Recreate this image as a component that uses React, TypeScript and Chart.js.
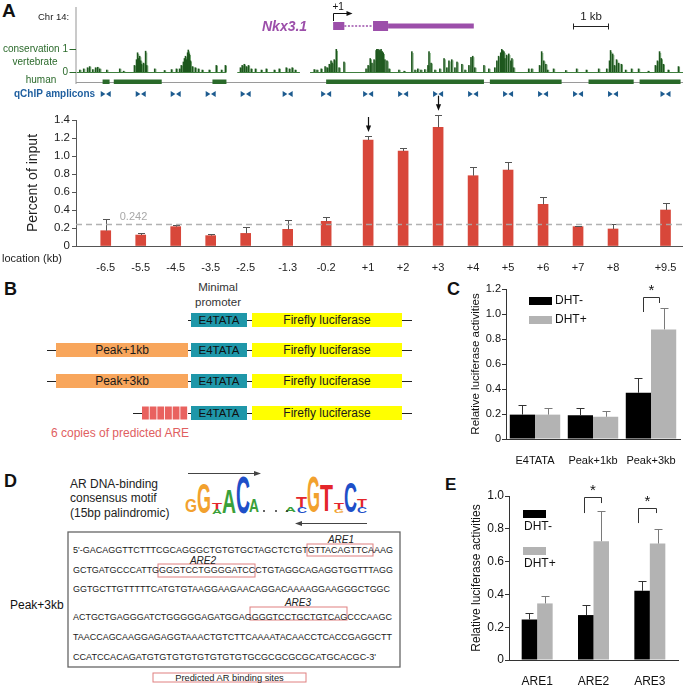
import React, { useEffect, useRef } from 'react';
import { Chart, registerables } from 'chart.js';

Chart.register(...registerables);

const FONT = "'Liberation Sans', Arial, Helvetica, sans-serif";
Chart.defaults.font.family = FONT;
Chart.defaults.color = '#222';

// ---------------- Panel A : ChIP-qPCR along the Nkx3.1 locus ----------------
const ampliconLabels = ['-6.5', '-5.5', '-4.5', '-3.5', '-2.5', '-1.3', '-0.2', '+1', '+2', '+3', '+4', '+5', '+6', '+7', '+8', '+9.5'];
const ampliconKb = [-6.5, -5.5, -4.5, -3.5, -2.5, -1.3, -0.2, 1, 2, 3, 4, 5, 6, 7, 8, 9.5];
const percentInput = [0.17, 0.122, 0.215, 0.115, 0.14, 0.185, 0.274, 1.178, 1.055, 1.319, 0.781, 0.844, 0.463, 0.215, 0.189, 0.4];
const percentInputErr = [0.13, 0.02, 0.015, 0.015, 0.067, 0.1, 0.052, 0.044, 0.03, 0.14, 0.1, 0.086, 0.085, 0.007, 0.055, 0.074];
const inputThreshold = 0.242;
const arrowedAmplicons = ['+1', '+3'];

// genome browser track, positions in kb relative to the TSS (+1)
const trackRangeKb = [-7.35, 10];
const conservationSegmentsKb = [[-7.33, -3.05], [-2.74, -0.95], [-0.66, 10]];
const conservationPeaks: [number, number][] = [
  [-7.24, 0.1], [-7.13, 0.15], [-7.02, 0.2], [-6.96, 0.25], [-6.87, 0.12], [-6.79, 0.2], [-6.73, 0.22], [-6.67, 0.15], [-6.47, 0.1], [-6.1, 0.15], [-5.99, 0.05],
  [-5.68, 0.3], [-5.62, 0.55], [-5.59, 0.85], [-5.56, 0.6], [-5.53, 0.7], [-5.5, 0.5], [-5.48, 0.35], [-5.42, 0.4], [-5.36, 0.92], [-5.33, 0.3],
  [-5.1, 0.15], [-4.82, 0.08], [-4.62, 0.12], [-4.48, 0.15],
  [-4.39, 0.15], [-4.34, 0.3], [-4.28, 0.45], [-4.25, 0.6], [-4.22, 0.7], [-4.19, 0.55], [-4.16, 0.85], [-4.14, 0.97], [-4.11, 0.8], [-4.08, 0.5], [-4.02, 0.25], [-3.94, 0.2], [-3.85, 0.15], [-3.74, 0.1], [-3.54, 0.1],
  [-3.34, 0.3], [-3.19, 0.1], [-3.08, 0.3],
  [-2.65, 0.2], [-2.6, 0.3], [-2.54, 0.35], [-2.48, 0.25], [-2.42, 0.3], [-2.34, 0.15], [-2.22, 0.15], [-2.05, 0.1], [-1.91, 0.15], [-1.68, 0.1], [-1.54, 0.15], [-1.34, 0.2], [-1.25, 0.15], [-1.17, 0.2], [-1.08, 0.1],
  [-0.54, 0.12], [-0.46, 0.1], [-0.34, 0.15], [-0.23, 0.25], [-0.17, 0.2], [-0.11, 0.35], [-0.06, 0.5], [-0.03, 0.4], [0.03, 0.55], [0.09, 1.0], [0.17, 0.2], [0.31, 0.45],
  [0.94, 0.15], [1.0, 0.3], [1.06, 0.6], [1.11, 0.4], [1.17, 0.55], [1.23, 0.95], [1.25, 1.0], [1.28, 1.0], [1.31, 0.98], [1.34, 0.95], [1.37, 1.0], [1.4, 0.9], [1.43, 0.85], [1.48, 0.55], [1.54, 0.5], [1.6, 0.15],
  [1.88, 0.1], [2.03, 0.05], [2.25, 0.9], [2.34, 0.1], [2.42, 0.15], [2.51, 0.1], [2.62, 0.12], [2.71, 0.3], [2.74, 0.9], [2.8, 0.4], [2.91, 0.1], [3.05, 0.15], [3.17, 0.6], [3.25, 0.2], [3.31, 0.5], [3.39, 0.55], [3.48, 0.2], [3.54, 0.45],
  [3.68, 0.35], [3.77, 0.1], [3.88, 0.3], [3.94, 0.65], [3.99, 0.7], [4.05, 0.2], [4.31, 0.3], [4.45, 0.15],
  [4.62, 0.2], [4.68, 0.5], [4.73, 0.7], [4.79, 0.85], [4.82, 1.0], [4.85, 0.95], [4.88, 0.9], [4.91, 0.6], [4.96, 0.75], [5.02, 0.8], [5.08, 0.5], [5.11, 0.6], [5.16, 0.2],
  [5.59, 0.15], [5.68, 0.15], [5.9, 0.3], [5.96, 0.9], [6.02, 0.5], [6.08, 0.35], [6.13, 0.1], [6.3, 0.15],
  [6.65, 0.08], [6.96, 0.15], [7.24, 0.1], [7.59, 0.15],
  [7.82, 0.15], [7.9, 0.5], [7.93, 0.95], [7.99, 0.8], [8.04, 0.3], [8.1, 0.55], [8.16, 0.4], [8.24, 0.35], [8.36, 0.1], [8.53, 0.15], [8.73, 0.15], [9.01, 0.05],
  [9.21, 0.3], [9.27, 0.5], [9.33, 0.9], [9.38, 0.6], [9.44, 0.35], [9.58, 0.1], [9.87, 0.25],
];
const humanBlocksKb = [[-6.59, -6.39], [-6.27, -4.9], [-3.45, -3.05], [-0.2, 4.31], [4.48, 6.53], [7.3, 8.59], [8.76, 9.93]];
const geneExonsKb = [[0, 0.32], [1.14, 1.57]];
const geneUtrKb = [1.57, 4.02];
const scaleBarKb = [6.87, 7.87];

// ---------------- Panel C : reporter constructs ----------------
const reporterLabels = ['E4TATA', 'Peak+1kb', 'Peak+3kb'];
const cDhtMinus = [0.195, 0.19, 0.37];
const cDhtMinusErr = [0.075, 0.06, 0.12];
const cDhtPlus = [0.195, 0.178, 0.877];
const cDhtPlusErr = [0.05, 0.05, 0.168];

// ---------------- Panel E : ARE reporters ----------------
const areLabels = ['ARE1', 'ARE2', 'ARE3'];
const eDhtMinus = [0.247, 0.274, 0.422];
const eDhtMinusErr = [0.037, 0.061, 0.058];
const eDhtPlus = [0.345, 0.724, 0.71];
const eDhtPlusErr = [0.046, 0.183, 0.09];

const seriesNames = ['DHT-', 'DHT+'];

// ---------------- Panel D : sequence ----------------
const peak3kbSequence = [
  "5'-GACAGGTTCTTTCGCAGGGCTGTGTGCTAGCTCTGTGTTACAGTTCAAAG",
  'GCTGATGCCCATTGGGGTCCTGGGGATCCCTGTAGGCAGAGGTGGTTTAGG',
  'GGTGCTTGTTTTTCATGTGTAAGGAAGAACAGGACAAAAGGAAGGGCTGGC',
  'ACTGCTGAGGGATCTGGGGGAGATGGAGGGGTCCTGCTGTCAGCCCAAGC',
  'TAACCAGCAAGGAGAGGTAAACTGTCTTCAAAATACAACCTCACCGAGGCTT',
  "CCATCCACAGATGTGTGTGTGTGTGTGTGCGCGCGCGCATGCACGC-3'",
];

const fmt1 = (v: number) => (Math.abs(v) < 1e-9 ? '0' : Number(v).toFixed(1));

// ---------------- plugins ----------------
const errorBarPlugin = {
  id: 'errorBars',
  afterDatasetsDraw(chart: any) {
    const { ctx } = chart;
    const ys = chart.scales.y;
    chart.data.datasets.forEach((ds: any, di: number) => {
      if (!ds.errors) return;
      const meta = chart.getDatasetMeta(di);
      ctx.save();
      ctx.strokeStyle = ds.errorColor || '#444';
      ctx.lineWidth = 1;
      meta.data.forEach((bar: any, i: number) => {
        const raw = ds.data[i];
        const val = typeof raw === 'number' ? raw : raw.y;
        const top = Math.round(ys.getPixelForValue(val + ds.errors[i])) + 0.5;
        const x = Math.round(bar.x) + 0.5;
        const half = ds.capHalf || 3.5;
        ctx.beginPath();
        ctx.moveTo(x, bar.y);
        ctx.lineTo(x, top);
        ctx.moveTo(x - half, top);
        ctx.lineTo(x + half, top);
        ctx.stroke();
      });
      ctx.restore();
    });
  },
};

const trackPlugin = {
  id: 'genomeTrack',
  afterDatasetsDraw(chart: any) {
    const { ctx, chartArea } = chart;
    const xs = chart.scales.x;
    const ys = chart.scales.y;
    const px = (kb: number) => xs.getPixelForValue(kb);
    const L = chartArea.left;
    const R = chartArea.right;
    ctx.save();

    // threshold line
    const ty = Math.round(ys.getPixelForValue(inputThreshold)) + 0.5;
    ctx.strokeStyle = 'rgba(170,170,170,0.9)';
    ctx.lineWidth = 1.3;
    ctx.setLineDash([6, 4]);
    ctx.beginPath();
    ctx.moveTo(L, ty);
    ctx.lineTo(R, ty);
    ctx.stroke();
    ctx.setLineDash([]);
    ctx.fillStyle = '#a8a8a8';
    ctx.font = `11px ${FONT}`;
    ctx.textAlign = 'left';
    ctx.textBaseline = 'middle';
    ctx.fillText(String(inputThreshold), px(-6.1), ty - 8);

    // location label
    ctx.fillStyle = '#222';
    ctx.font = `11px ${FONT}`;
    ctx.fillText('location (kb)', 2, 259);

    // arrows on peaks
    arrowedAmplicons.forEach((lbl) => {
      const i = ampliconLabels.indexOf(lbl);
      const x = Math.round(px(ampliconKb[i])) + 0.5;
      const tip = ys.getPixelForValue(percentInput[i] + percentInputErr[i]) - 4;
      ctx.strokeStyle = '#111';
      ctx.fillStyle = '#111';
      ctx.lineWidth = 1.2;
      ctx.beginPath();
      ctx.moveTo(x, tip - 15);
      ctx.lineTo(x, tip - 5);
      ctx.stroke();
      ctx.beginPath();
      ctx.moveTo(x, tip);
      ctx.lineTo(x - 2.6, tip - 6.5);
      ctx.lineTo(x + 2.6, tip - 6.5);
      ctx.closePath();
      ctx.fill();
    });

    // frame line of browser view
    ctx.strokeStyle = '#b8b8b8';
    ctx.lineWidth = 1.5;
    ctx.beginPath();
    ctx.moveTo(L, 7);
    ctx.lineTo(L, 84);
    ctx.stroke();

    ctx.fillStyle = '#222';
    ctx.font = `9.5px ${FONT}`;
    ctx.fillText('Chr 14:', 38, 17);

    // gene model
    const purple = '#9c4faa';
    const gy = 26;
    ctx.fillStyle = purple;
    ctx.font = `italic bold 14px ${FONT}`;
    ctx.textAlign = 'right';
    ctx.fillText('Nkx3.1', px(0) - 26, gy + 1);
    const e1 = geneExonsKb[0];
    const e2 = geneExonsKb[1];
    ctx.fillRect(px(e1[0]), gy - 4, px(e1[1]) - px(e1[0]), 8);
    ctx.fillRect(px(e2[0]), gy - 5, px(e2[1]) - px(e2[0]), 10);
    ctx.fillRect(px(geneUtrKb[0]), gy - 2.5, px(geneUtrKb[1]) - px(geneUtrKb[0]), 5);
    ctx.strokeStyle = purple;
    ctx.lineWidth = 1.6;
    ctx.setLineDash([2, 1.6]);
    ctx.beginPath();
    ctx.moveTo(px(e1[1]), gy);
    ctx.lineTo(px(e2[0]), gy);
    ctx.stroke();
    ctx.setLineDash([]);

    // TSS arrow
    const tx = Math.round(px(0)) + 0.5;
    ctx.strokeStyle = '#111';
    ctx.fillStyle = '#111';
    ctx.lineWidth = 1;
    ctx.beginPath();
    ctx.moveTo(tx, 21);
    ctx.lineTo(tx, 13.5);
    ctx.lineTo(tx + 14, 13.5);
    ctx.stroke();
    ctx.beginPath();
    ctx.moveTo(tx + 19, 13.5);
    ctx.lineTo(tx + 13, 11);
    ctx.lineTo(tx + 13, 16);
    ctx.closePath();
    ctx.fill();
    ctx.font = `10px ${FONT}`;
    ctx.textAlign = 'left';
    ctx.fillText('+1', tx - 1, 7);

    // scale bar
    const s0 = Math.round(px(scaleBarKb[0])) + 0.5;
    const s1 = Math.round(px(scaleBarKb[1])) + 0.5;
    ctx.strokeStyle = '#222';
    ctx.beginPath();
    ctx.moveTo(s0, 26.5);
    ctx.lineTo(s1, 26.5);
    ctx.moveTo(s0, 23.5);
    ctx.lineTo(s0, 29.5);
    ctx.moveTo(s1, 23.5);
    ctx.lineTo(s1, 29.5);
    ctx.stroke();
    ctx.fillStyle = '#222';
    ctx.font = `11.5px ${FONT}`;
    ctx.textAlign = 'center';
    ctx.fillText('1 kb', (s0 + s1) / 2, 17);

    // conservation track
    const green = '#2b6a2b';
    const cBase = 72;
    const cH = 23;
    ctx.strokeStyle = '#3f7f3f';
    ctx.lineWidth = 1;
    conservationSegmentsKb.forEach(([a, b]) => {
      ctx.beginPath();
      ctx.moveTo(px(a), cBase + 0.5);
      ctx.lineTo(px(b), cBase + 0.5);
      ctx.stroke();
    });
    conservationPeaks.forEach(([kb, v]) => {
      ctx.fillStyle = '#5f9a5f';
      ctx.fillRect(px(kb) + 0.8, cBase - v * cH * 0.92, 0.8, v * cH * 0.92);
      ctx.fillStyle = '#1d571d';
      ctx.fillRect(px(kb) - 0.8, cBase - v * cH, 1.6, v * cH);
    });

    // human track
    ctx.strokeStyle = '#9a9a9a';
    ctx.beginPath();
    ctx.moveTo(L, 82.5);
    ctx.lineTo(R, 82.5);
    ctx.stroke();
    ctx.fillStyle = '#2a6a2a';
    humanBlocksKb.forEach(([a, b]) => {
      ctx.fillRect(px(a), 79.5, px(b) - px(a), 4.5);
    });

    // amplicons
    ctx.fillStyle = '#1d5b8f';
    ampliconKb.forEach((kb) => {
      const cx = px(kb);
      const cy = 94;
      ctx.beginPath();
      ctx.moveTo(cx - 5, cy - 3);
      ctx.lineTo(cx - 5, cy + 3);
      ctx.lineTo(cx - 0.3, cy);
      ctx.closePath();
      ctx.moveTo(cx + 5, cy - 3);
      ctx.lineTo(cx + 5, cy + 3);
      ctx.lineTo(cx + 0.3, cy);
      ctx.closePath();
      ctx.fill();
    });

    // track labels
    ctx.fillStyle = green;
    ctx.strokeStyle = green;
    ctx.font = `10px ${FONT}`;
    ctx.textAlign = 'right';
    ctx.fillText('conservation 1', 68, cBase - cH);
    ctx.fillText('0', 68, cBase);
    ctx.beginPath();
    ctx.moveTo(69.5, cBase - cH + 0.5);
    ctx.lineTo(76, cBase - cH + 0.5);
    ctx.moveTo(69.5, cBase + 0.5);
    ctx.lineTo(76, cBase + 0.5);
    ctx.stroke();
    ctx.textAlign = 'center';
    ctx.fillText('vertebrate', 35, 62);
    ctx.fillText('human', 41, 80.5);
    ctx.fillStyle = '#1f5f9f';
    ctx.font = `bold 10px ${FONT}`;
    ctx.textAlign = 'left';
    ctx.fillText('qChIP amplicons', 14, 94);
    ctx.restore();
  },
};

const groupExtrasPlugin = {
  id: 'groupExtras',
  afterDraw(chart: any, _args: any, opts: any) {
    const { ctx, chartArea } = chart;
    const xs = chart.scales.x;
    const ys = chart.scales.y;
    ctx.save();
    const lg = opts.legend;
    chart.data.datasets.forEach((ds: any, i: number) => {
      const bx = chartArea.left + lg.x;
      const by = chartArea.top + lg.y + i * lg.gap;
      ctx.fillStyle = ds.backgroundColor;
      ctx.fillRect(bx, by, lg.w, lg.h);
      ctx.fillStyle = '#111';
      ctx.font = `${lg.size}px ${FONT}`;
      ctx.textBaseline = 'middle';
      ctx.textAlign = 'left';
      ctx.fillText(ds.label, bx + lg.tx, by + lg.ty);
    });
    (opts.brackets || []).forEach((b: any) => {
      const cx = xs.getPixelForValue(b.index);
      const xl = Math.round(cx + b.dl) + 0.5;
      const xr = Math.round(cx + b.dr) + 0.5;
      const yt = Math.round(ys.getPixelForValue(b.top)) + 0.5;
      ctx.strokeStyle = '#333';
      ctx.lineWidth = 1;
      ctx.beginPath();
      ctx.moveTo(xl, ys.getPixelForValue(b.left));
      ctx.lineTo(xl, yt);
      ctx.lineTo(xr, yt);
      ctx.lineTo(xr, ys.getPixelForValue(b.right));
      ctx.stroke();
      ctx.fillStyle = '#111';
      ctx.font = `15px ${FONT}`;
      ctx.textAlign = 'center';
      ctx.textBaseline = 'alphabetic';
      ctx.fillText('*', (xl + xr) / 2, ys.getPixelForValue(b.star) + 8);
    });
    ctx.restore();
  },
};

// ---------------- chart configs ----------------
function configA(): any {
  return {
    type: 'bar',
    data: {
      datasets: [
        {
          label: 'Percent of input',
          data: ampliconKb.map((x, i) => ({ x, y: percentInput[i] })),
          backgroundColor: '#d8473a',
          borderWidth: 0,
          barThickness: 10,
          errors: percentInputErr,
          errorColor: '#555',
          capHalf: 3.5,
        },
      ],
    },
    options: {
      animation: false,
      responsive: false,
      maintainAspectRatio: false,
      events: [],
      layout: { padding: { top: 120, left: 0, right: 0, bottom: 0 } },
      plugins: { legend: { display: false }, tooltip: { enabled: false } },
      scales: {
        x: {
          type: 'linear',
          min: trackRangeKb[0],
          max: trackRangeKb[1],
          offset: false,
          afterBuildTicks: (s: any) => {
            s.ticks = ampliconKb.map((v) => ({ value: v }));
          },
          afterFit: (s: any) => {
            s.height = 29;
            s.paddingLeft = 0;
            s.paddingRight = 0;
          },
          ticks: {
            autoSkip: false,
            maxRotation: 0,
            minRotation: 0,
            padding: 7,
            font: { size: 11 },
            color: '#222',
            callback: (_v: any, i: number) => ampliconLabels[i],
          },
          grid: { display: false },
          border: { display: true, color: '#555', width: 1 },
        },
        y: {
          min: 0,
          max: 1.4,
          afterFit: (s: any) => {
            s.width = 76;
            s.paddingTop = 0;
            s.paddingBottom = 0;
          },
          ticks: { stepSize: 0.2, padding: 2, font: { size: 11.5 }, color: '#222', callback: (v: number) => fmt1(v) },
          grid: { display: true, drawOnChartArea: false, drawTicks: true, tickLength: 4, color: '#555' },
          border: { display: true, color: '#555', width: 1 },
          title: { display: true, text: 'Percent of input', font: { size: 14 }, color: '#222', padding: { top: 24.6, bottom: 0 } },
        },
      },
    },
    plugins: [errorBarPlugin, trackPlugin],
  };
}

function groupedConfig(p: any): any {
  return {
    type: 'bar',
    data: {
      labels: p.labels,
      datasets: [
        {
          label: seriesNames[0],
          data: p.minus,
          errors: p.minusErr,
          backgroundColor: '#000000',
          errorColor: '#333',
          capHalf: 4,
          borderWidth: 0,
          categoryPercentage: p.catPct,
          barPercentage: 1,
        },
        {
          label: seriesNames[1],
          data: p.plus,
          errors: p.plusErr,
          backgroundColor: '#b3b3b3',
          errorColor: '#7a7a7a',
          capHalf: 4,
          borderWidth: 0,
          categoryPercentage: p.catPct,
          barPercentage: 1,
        },
      ],
    },
    options: {
      animation: false,
      responsive: false,
      maintainAspectRatio: false,
      events: [],
      layout: { padding: { top: p.padTop, left: 0, right: p.padRight, bottom: 0 } },
      plugins: {
        legend: { display: false },
        tooltip: { enabled: false },
        groupExtras: { legend: p.legend, brackets: p.brackets },
      },
      scales: {
        x: {
          afterFit: (s: any) => {
            s.height = p.xHeight;
            s.paddingLeft = 0;
            s.paddingRight = 0;
          },
          ticks: { padding: p.xPad, font: { size: p.xFont }, color: '#111', maxRotation: 0, autoSkip: false },
          grid: { display: false },
          border: { display: true, color: '#333', width: 1 },
        },
        y: {
          min: 0,
          max: p.yMax,
          afterFit: (s: any) => {
            s.width = p.yWidth;
            s.paddingTop = 0;
            s.paddingBottom = 0;
          },
          ticks: {
            stepSize: p.step,
            padding: 1,
            font: { size: p.yFont },
            color: '#111',
            callback: (v: number) => {
              const k = Math.round(v * 10);
              if (p.labelEvery === 2 && k % 2 !== 0) return '';
              return fmt1(k / 10);
            },
          },
          grid: { display: true, drawOnChartArea: false, drawTicks: true, tickLength: 4, color: '#333' },
          border: { display: true, color: '#333', width: 1 },
          title: {
            display: true,
            text: 'Relative luciferase activities',
            font: { size: p.titleFont },
            color: '#111',
            padding: { top: p.titlePad, bottom: 0 },
          },
        },
      },
    },
    plugins: [errorBarPlugin, groupExtrasPlugin],
  };
}

// motif logo glyph boxes (diagram)
const motifGlyphs: [string, string, number, number, number, number][] = [
  ['G', '#f2a12e', 185, 197, 499, 512],
  ['G', '#f2a12e', 197, 211, 483, 513],
  ['T', '#e4262b', 212, 222, 503, 509],
  ['A', '#3aa03a', 212, 222, 509, 514],
  ['A', '#3aa03a', 222, 236, 489, 513],
  ['C', '#1e4fc8', 236, 250, 476, 513],
  ['A', '#3aa03a', 249, 259, 499, 512],
  ['A', '#3aa03a', 285, 296, 507, 512],
  ['T', '#e4262b', 296, 307, 496, 507],
  ['C', '#1e4fc8', 297, 307, 507, 513],
  ['G', '#f2a12e', 307, 320, 476, 512],
  ['T', '#e4262b', 320, 333, 484, 511],
  ['T', '#e4262b', 334, 344, 503, 509],
  ['G', '#f2a12e', 334, 344, 509, 513],
  ['C', '#1e4fc8', 344, 357, 482, 512],
  ['T', '#e4262b', 357, 367, 499, 507],
  ['C', '#1e4fc8', 357, 367, 507, 513],
];
const glyphAdvance: Record<string, number> = { G: 7.78, A: 7.22, C: 7.22, T: 6.11 };

export default function App() {
  const aRef = useRef<HTMLCanvasElement>(null);
  const cRef = useRef<HTMLCanvasElement>(null);
  const eRef = useRef<HTMLCanvasElement>(null);

  useEffect(() => {
    const charts: Chart[] = [];
    charts.push(new Chart(aRef.current as HTMLCanvasElement, configA()));
    charts.push(
      new Chart(
        cRef.current as HTMLCanvasElement,
        groupedConfig({
          labels: reporterLabels,
          minus: cDhtMinus,
          minusErr: cDhtMinusErr,
          plus: cDhtPlus,
          plusErr: cDhtPlusErr,
          catPct: 0.87,
          padTop: 9,
          padRight: 3,
          xHeight: 31,
          xPad: 7,
          xFont: 11,
          yMax: 1.2,
          yWidth: 51,
          step: 0.2,
          yFont: 11,
          labelEvery: 1,
          titleFont: 11.5,
          titlePad: 14.1,
          legend: { x: 23, y: 8, w: 23, h: 8, gap: 19, tx: 26, ty: 4, size: 12 },
          brackets: [{ index: 2, dl: -8, dr: 8, top: 1.136, left: 1.016, right: 1.088, star: 1.216 }],
        })
      )
    );
    charts.push(
      new Chart(
        eRef.current as HTMLCanvasElement,
        groupedConfig({
          labels: areLabels,
          minus: eDhtMinus,
          minusErr: eDhtMinusErr,
          plus: eDhtPlus,
          plusErr: eDhtPlusErr,
          catPct: 0.55,
          padTop: 18,
          padRight: 5,
          xHeight: 27,
          xPad: 6,
          xFont: 12,
          yMax: 1.0,
          yWidth: 54,
          step: 0.1,
          yFont: 12,
          labelEvery: 2,
          titleFont: 12,
          titlePad: 14.8,
          legend: { x: 14, y: 14, w: 23, h: 8, gap: 37, tx: 1, ty: 17, size: 12 },
          brackets: [
            { index: 1, dl: -10, dr: 7, top: 0.994, left: 0.896, right: 0.957, star: 1.055 },
            { index: 2, dl: -12, dr: 6, top: 0.927, left: 0.835, right: 0.896, star: 0.988 },
          ],
        })
      )
    );
    return () => charts.forEach((c) => c.destroy());
  }, []);

  const rowsY = [320, 350, 381, 413];
  const seqEnds = [393, 393, 390, 392, 392, 376];
  const seqBase = [553.3, 573.3, 592.3, 620.3, 640.3, 660.3];

  return (
    <div style={{ position: 'absolute', left: 0, top: 0, width: 683, height: 687, background: '#fff', overflow: 'hidden' }}>
      <svg width={683} height={687} style={{ position: 'absolute', left: 0, top: 0 }} fontFamily={FONT}>
        {/* panel letters */}
        <text x={2} y={17} fontSize={19} fontWeight="bold" fill="#111">A</text>
        <text x={4} y={295} fontSize={18} fontWeight="bold" fill="#111">B</text>
        <text x={447} y={295} fontSize={18} fontWeight="bold" fill="#111">C</text>
        <text x={4} y={487} fontSize={18} fontWeight="bold" fill="#111">D</text>
        <text x={445} y={490} fontSize={17} fontWeight="bold" fill="#111">E</text>

        {/* Panel B constructs */}
        <text x={218} y={291} fontSize={11.5} textAnchor="middle" fill="#333">Minimal</text>
        <text x={218} y={306} fontSize={11.5} textAnchor="middle" fill="#333">promoter</text>
        {rowsY.map((cy, r) => (
          <g key={r}>
            {(r === 1 || r === 2) && (
              <g>
                <line x1={47} x2={56} y1={cy + 0.5} y2={cy + 0.5} stroke="#222" />
                <rect x={56} y={cy - 7} width={132} height={14} fill="#f8a65c" />
                <text x={122} y={cy + 4.3} fontSize={12} textAnchor="middle" fill="#1a1a1a">
                  {r === 1 ? 'Peak+1kb' : 'Peak+3kb'}
                </text>
              </g>
            )}
            {r === 3 && (
              <g>
                <line x1={133} x2={142} y1={cy + 0.5} y2={cy + 0.5} stroke="#222" />
                {[0, 1, 2, 3, 4, 5].map((k) => (
                  <rect key={k} x={142 + k * 7.67} y={cy - 6.5} width={6.8} height={13} fill="#e9625f" />
                ))}
              </g>
            )}
            <line x1={188} x2={191} y1={cy + 0.5} y2={cy + 0.5} stroke="#222" />
            <rect x={191} y={cy - 7} width={56} height={14} fill="#1f97a9" />
            <text x={219} y={cy + 4.2} fontSize={11.5} textAnchor="middle" fill="#111">E4TATA</text>
            <line x1={247} x2={252} y1={cy + 0.5} y2={cy + 0.5} stroke="#222" />
            <rect x={252} y={cy - 7} width={150} height={14} fill="#ffff00" />
            <text x={327} y={cy + 4.3} fontSize={12} textAnchor="middle" fill="#1a1a1a">Firefly luciferase</text>
            <line x1={402} x2={412} y1={cy + 0.5} y2={cy + 0.5} stroke="#222" />
          </g>
        ))}
        <text x={51} y={437.3} fontSize={12} fill="#e0605f">6 copies of predicted ARE</text>

        {/* Panel D */}
        <text x={70} y={488} fontSize={12} fill="#222">AR DNA-binding</text>
        <text x={70} y={502} fontSize={12} fill="#222">consensus motif</text>
        <text x={70} y={517} fontSize={12} fill="#222">(15bp palindromic)</text>
        {motifGlyphs.map(([ch, col, x0, x1, top, bottom], i) => (
          <text
            key={i}
            transform={`translate(${x0},${bottom}) scale(${(x1 - x0) / glyphAdvance[ch]},${(bottom - top) / 7.16})`}
            fontSize={10}
            fontWeight="bold"
            fill={col}
          >
            {ch}
          </text>
        ))}
        {[264, 276, 287].map((dx) => (
          <circle key={dx} cx={dx} cy={511} r={1} fill="#333" />
        ))}
        <line x1={188} y1={473.5} x2={255} y2={473.5} stroke="#444" />
        <polygon points="261,473.5 254,471 254,476" fill="#444" />
        <line x1={367} y1={523.5} x2={301} y2={523.5} stroke="#444" />
        <polygon points="295,523.5 302,521 302,526" fill="#444" />

        <rect x={68} y={532} width={332} height={135} fill="none" stroke="#666" strokeWidth={1.3} />
        <rect x={307} y={544} width={66} height={12} fill="none" stroke="#e08080" strokeWidth={1} />
        <rect x={158} y={564} width={97} height={13} fill="none" stroke="#e08080" strokeWidth={1} />
        <rect x={250} y={607} width={97} height={13} fill="none" stroke="#e08080" strokeWidth={1} />
        <text x={341} y={542.5} fontSize={10} fontStyle="italic" textAnchor="middle" fill="#222">ARE1</text>
        <text x={203} y={563.5} fontSize={10} fontStyle="italic" textAnchor="middle" fill="#222">ARE2</text>
        <text x={298} y={605.5} fontSize={10} fontStyle="italic" textAnchor="middle" fill="#222">ARE3</text>
        {peak3kbSequence.map((s, i) => (
          <text
            key={i}
            x={73}
            y={seqBase[i]}
            fontSize={9.4}
            fill="#1a1a1a"
            textLength={seqEnds[i] - 73}
            lengthAdjust="spacingAndGlyphs"
          >
            {s}
          </text>
        ))}
        <text x={10} y={609} fontSize={12} fill="#111">Peak+3kb</text>
        <rect x={153} y={673} width={153} height={9} fill="none" stroke="#e08080" strokeWidth={1} />
        <text x={229.5} y={681} fontSize={9.3} textAnchor="middle" fill="#222">Predicted AR binding sites</text>
      </svg>
      <canvas ref={aRef} width={683} height={275} style={{ position: 'absolute', left: 0, top: 0, width: 683, height: 275 }} />
      <canvas ref={cRef} width={228} height={190} style={{ position: 'absolute', left: 455, top: 280, width: 228, height: 190 }} />
      <canvas ref={eRef} width={228} height={209} style={{ position: 'absolute', left: 455, top: 478, width: 228, height: 209 }} />
    </div>
  );
}
